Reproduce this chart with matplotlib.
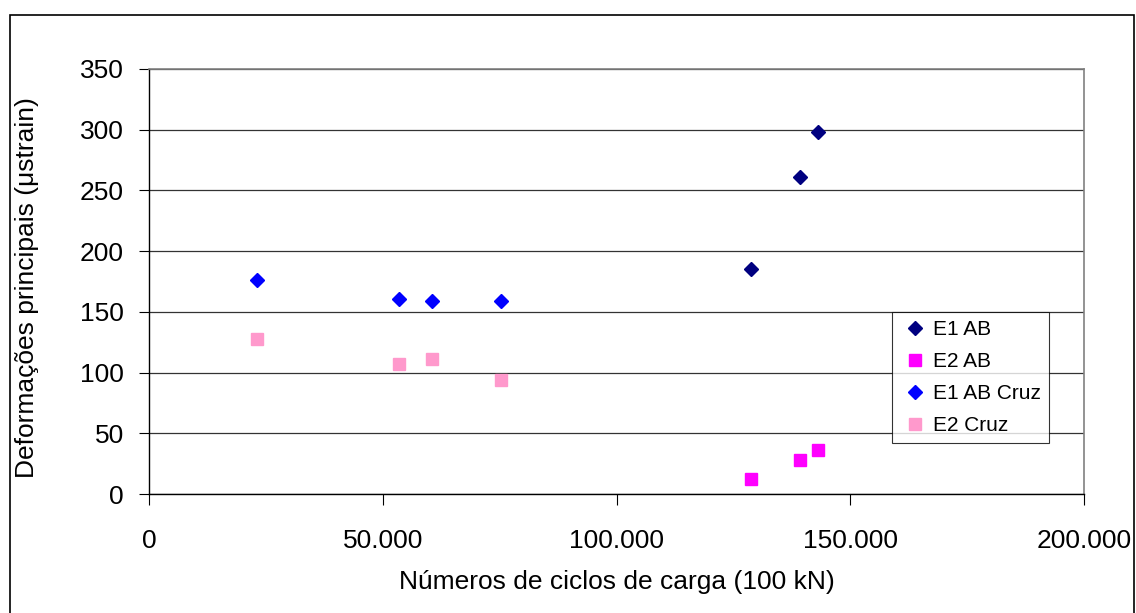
import matplotlib
matplotlib.use("Agg")
import matplotlib.pyplot as plt
from matplotlib.patches import Rectangle
from matplotlib.ticker import FuncFormatter

plt.rcParams['font.family'] = ['Liberation Sans', 'DejaVu Sans']

# ciclos de carga
ciclos_ab = [128700, 139200, 143100]
ciclos_cruz = [23000, 53400, 60600, 75300]

# deformacoes (ustrain)
e1_ab = [185, 261, 298]
e2_ab = [12, 28, 36]
e1_ab_cruz = [176, 161, 159, 159]
e2_cruz = [128, 107, 111, 94]

W, H = 1136, 613
fig = plt.figure(figsize=(W / 100, H / 100), dpi=100)

# borda externa do grafico
fig.patches.append(Rectangle((10 / W, -0.05), 1124 / W, (H - 15) / H + 0.05,
                             transform=fig.transFigure, fill=False,
                             edgecolor='black', lw=1.2, clip_on=False))

ax = fig.add_axes([149 / W, (H - 494) / H, 935 / W, (494 - 69) / H])

ax.plot(ciclos_ab, e1_ab, 'D', color='#000080', ms=7.2, mec='#000080', label='E1 AB')
ax.plot(ciclos_ab, e2_ab, 's', color='#FF00FF', ms=9, mec='#FF00FF', label='E2 AB')
ax.plot(ciclos_cruz, e1_ab_cruz, 'D', color='#0000FF', ms=7.2, mec='#0000FF', label='E1 AB Cruz')
ax.plot(ciclos_cruz, e2_cruz, 's', color='#FF99CC', ms=9, mec='#FF99CC', label='E2 Cruz')

ax.set_xlim(0, 200000)
ax.set_ylim(0, 350)
ax.set_xticks([0, 50000, 100000, 150000, 200000])
ax.set_yticks(range(0, 351, 50))
ax.xaxis.set_major_formatter(FuncFormatter(lambda v, p: f"{int(v):,}".replace(',', '.')))

ax.grid(axis='y', color='#333333', lw=0.9)
ax.set_axisbelow(True)
for s in ['top', 'right']:
    ax.spines[s].set_color('#808080')
    ax.spines[s].set_linewidth(1.2)
for s in ['left', 'bottom']:
    ax.spines[s].set_color('black')
    ax.spines[s].set_linewidth(1.0)

ax.tick_params(axis='y', direction='out', length=7, pad=11, labelsize=19)
ax.tick_params(axis='x', direction='out', length=8, pad=17, labelsize=19)

fig.text(617 / W, 1 - 582 / H, 'Números de ciclos de carga (100 kN)',
         ha='center', va='center', fontsize=19)
fig.text(27 / W, 1 - 288 / H, 'Deformações principais (μstrain)',
         ha='center', va='center', rotation=90, fontsize=19)

leg = ax.legend(loc='upper left', bbox_to_anchor=(892 / W, 1 - 312 / H),
                bbox_transform=fig.transFigure, fontsize=15, frameon=True,
                fancybox=False, borderpad=0.4, labelspacing=0.62,
                handlelength=1.4, handletextpad=0.15, borderaxespad=0,
                markerscale=1.0)
leg.get_frame().set_edgecolor('black')
leg.get_frame().set_linewidth(0.8)

fig.savefig('out.png', dpi=100)
